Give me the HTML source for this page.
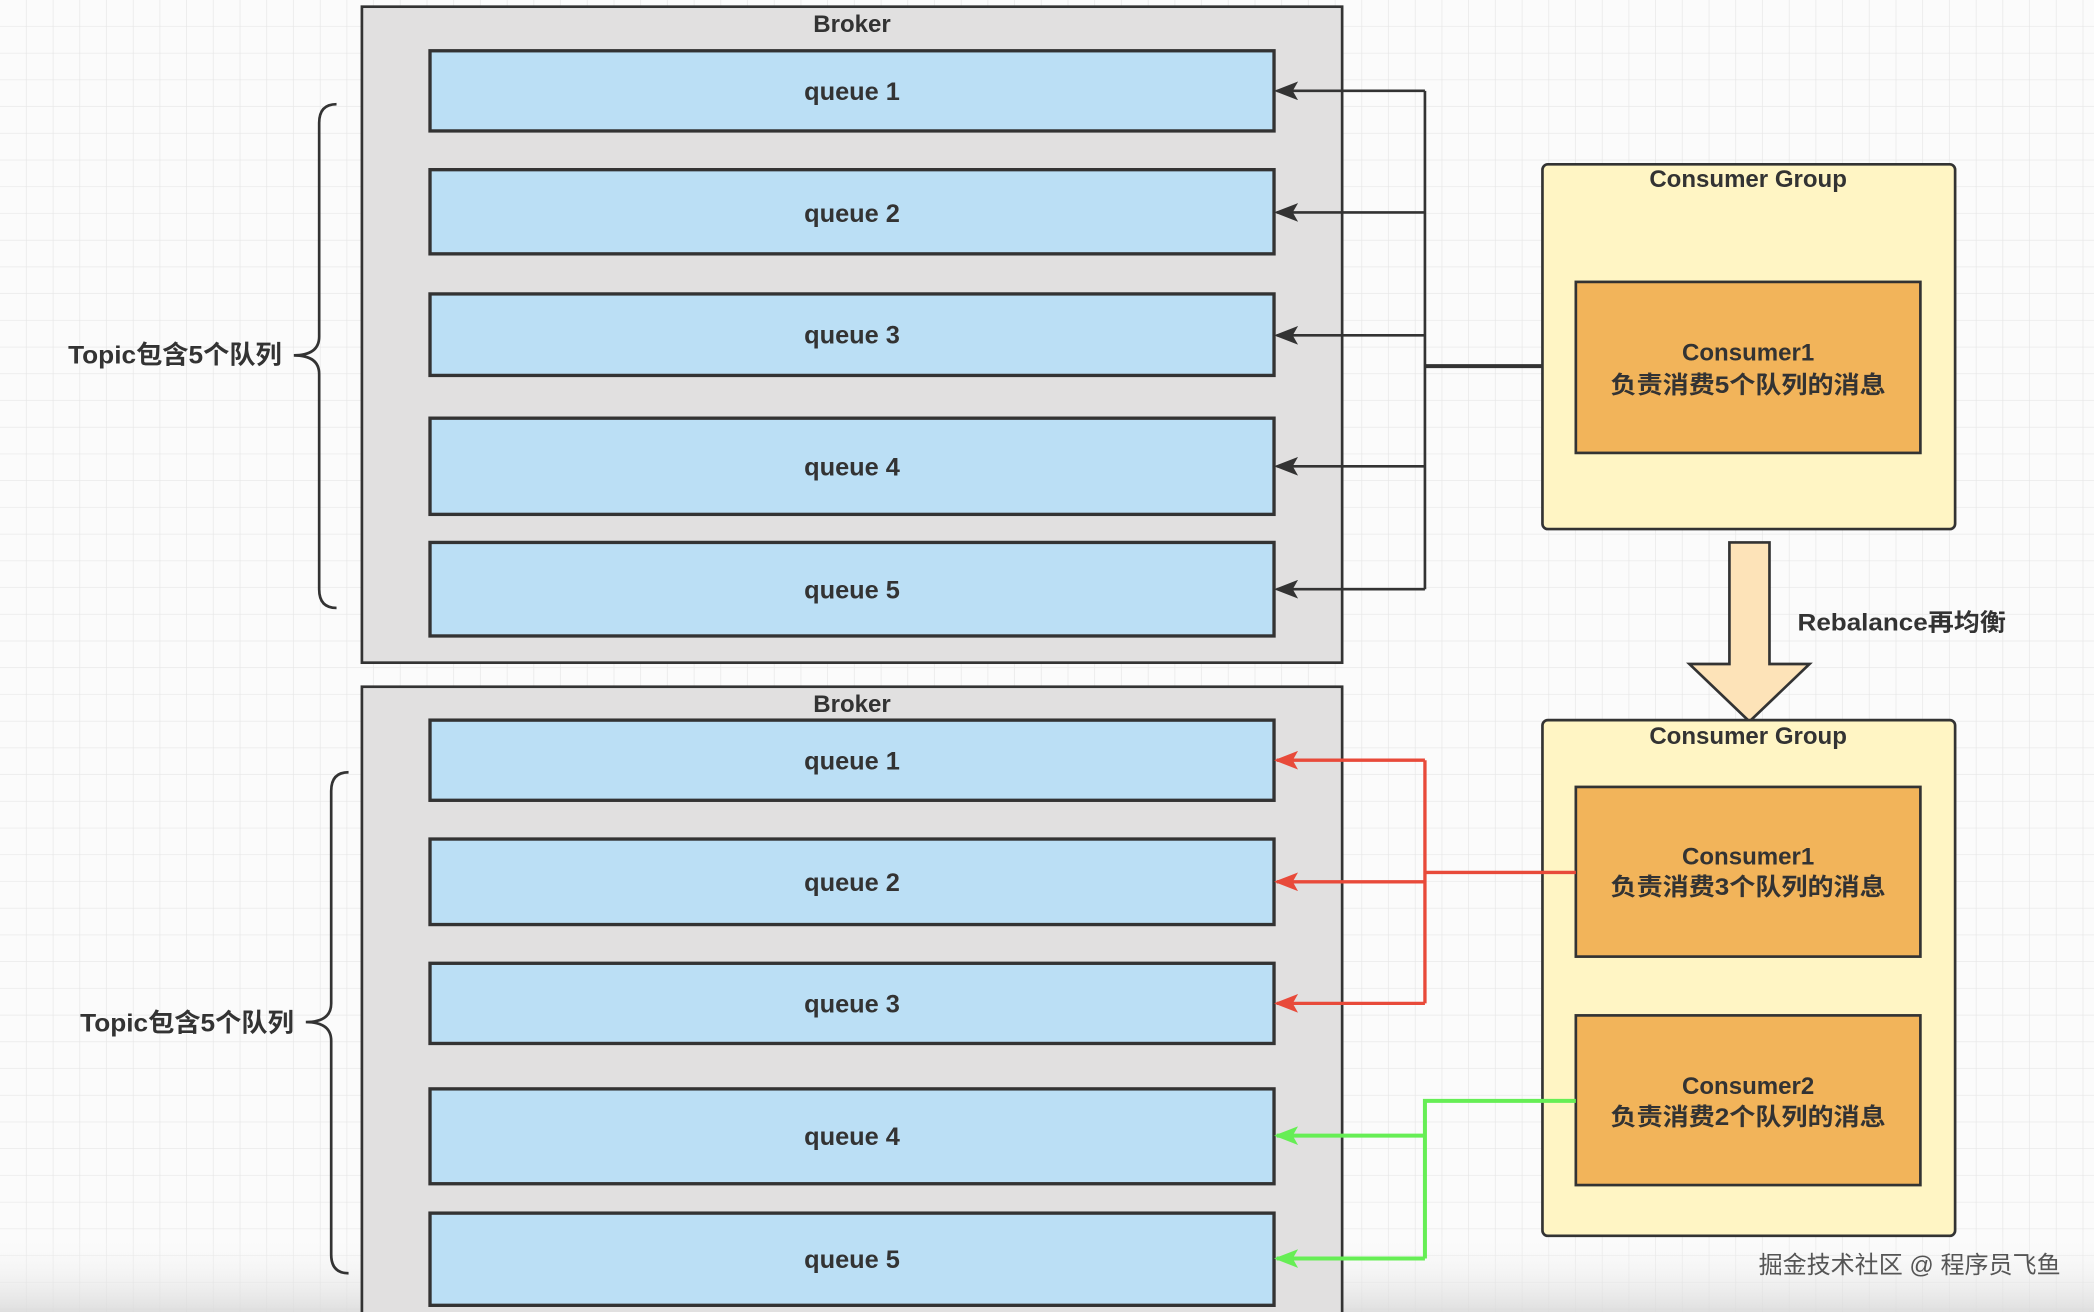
<!DOCTYPE html>
<html><head><meta charset="utf-8"><style>
html,body{margin:0;padding:0;background:#fafafa;}
svg{display:block;}
text{font-family:"Liberation Sans","Noto Sans CJK SC",sans-serif;font-weight:bold;fill:#333;}
</style></head><body>
<svg width="2094" height="1312" viewBox="0 0 1568 982" preserveAspectRatio="none" xmlns="http://www.w3.org/2000/svg">
<defs>
<pattern id="g" width="20" height="20" patternUnits="userSpaceOnUse">
<path d="M20 0V20M0 20H20" stroke="#e6e6e6" stroke-width="1" fill="none"/>
</pattern>
<linearGradient id="bot" x1="0" y1="0" x2="0" y2="1">
<stop offset="0" stop-color="#fff" stop-opacity="0"/><stop offset="1" stop-color="#d8d8d8" stop-opacity="0.8"/>
</linearGradient>
<marker id="ak" markerWidth="18" markerHeight="14" refX="16" refY="7" orient="auto" markerUnits="userSpaceOnUse"><path d="M0,0 L18,7 L0,14 L4,7 Z" fill="#333"/></marker>
<marker id="ar" markerWidth="18" markerHeight="14" refX="16" refY="7" orient="auto" markerUnits="userSpaceOnUse"><path d="M0,0 L18,7 L0,14 L4,7 Z" fill="#e84a3a"/></marker>
<marker id="ag" markerWidth="18" markerHeight="14" refX="16" refY="7" orient="auto" markerUnits="userSpaceOnUse"><path d="M0,0 L18,7 L0,14 L4,7 Z" fill="#66ee55"/></marker>
</defs>
<rect width="1568" height="982" fill="#fbfbfb"/>
<rect width="1568" height="982" fill="url(#g)"/>
<rect y="920" width="1568" height="62" fill="url(#bot)"/>

<rect x="271" y="5" width="734" height="491" fill="#e1e0e0" stroke="#333" stroke-width="2"/>
<text x="638" y="24" text-anchor="middle" font-size="18">Broker</text>
<g fill="#bbdff5" stroke="#333" stroke-width="2.5">
<rect x="322" y="38" width="632" height="60"/>
<rect x="322" y="127" width="632" height="63"/>
<rect x="322" y="220" width="632" height="61"/>
<rect x="322" y="313" width="632" height="72"/>
<rect x="322" y="406" width="632" height="70"/>
</g>
<g font-size="19" text-anchor="middle">
<text x="638" y="75">queue 1</text>
<text x="638" y="166">queue 2</text>
<text x="638" y="257">queue 3</text>
<text x="638" y="356">queue 4</text>
<text x="638" y="448">queue 5</text>
</g>

<rect x="271" y="514" width="734" height="480" fill="#e1e0e0" stroke="#333" stroke-width="2"/>
<text x="638" y="533" text-anchor="middle" font-size="18">Broker</text>
<g fill="#bbdff5" stroke="#333" stroke-width="2.5">
<rect x="322" y="539" width="632" height="60"/>
<rect x="322" y="628" width="632" height="64"/>
<rect x="322" y="721" width="632" height="60"/>
<rect x="322" y="815" width="632" height="71"/>
<rect x="322" y="908" width="632" height="69"/>
</g>
<g font-size="19" text-anchor="middle">
<text x="638" y="576">queue 1</text>
<text x="638" y="667">queue 2</text>
<text x="638" y="758">queue 3</text>
<text x="638" y="857">queue 4</text>
<text x="638" y="949">queue 5</text>
</g>

<path d="M252 78 Q239 78 239 92 V252 Q239 266 220 266 Q239 266 239 280 V441 Q239 455 252 455" fill="none" stroke="#333" stroke-width="2"/>
<text x="211" y="272" text-anchor="end" font-size="19" textLength="160" lengthAdjust="spacingAndGlyphs">Topic包含5个队列</text>
<path d="M261 578 Q248 578 248 592 V751 Q248 765 229 765 Q248 765 248 779 V939 Q248 953 261 953" fill="none" stroke="#333" stroke-width="2"/>
<text x="220" y="772" text-anchor="end" font-size="19" textLength="160" lengthAdjust="spacingAndGlyphs">Topic包含5个队列</text>

<g stroke="#333" stroke-width="2" fill="none">
<path d="M1067 68V441"/>
<path d="M1067 68H956" marker-end="url(#ak)"/>
<path d="M1067 159H956" marker-end="url(#ak)"/>
<path d="M1067 251H956" marker-end="url(#ak)"/>
<path d="M1067 349H956" marker-end="url(#ak)"/>
<path d="M1067 441H956" marker-end="url(#ak)"/>
<path d="M1067 274H1180" stroke-width="3"/>
</g>

<rect x="1155" y="123" width="309" height="273" rx="4" fill="#fff5c4" stroke="#333" stroke-width="2"/>
<text x="1309" y="140" text-anchor="middle" font-size="18">Consumer Group</text>
<rect x="1180" y="211" width="258" height="128" fill="#f2b45a" stroke="#333" stroke-width="2"/>
<text x="1309" y="270" text-anchor="middle" font-size="18">Consumer1</text>
<text x="1309" y="294" text-anchor="middle" font-size="18" textLength="206" lengthAdjust="spacingAndGlyphs">负责消费5个队列的消息</text>

<path d="M1295 406H1325V497H1355L1310 540L1265 497H1295Z" fill="#fde3b8" stroke="#333" stroke-width="2"/>
<text x="1346" y="472" font-size="18" textLength="156" lengthAdjust="spacingAndGlyphs">Rebalance再均衡</text>

<rect x="1155" y="539" width="309" height="386" rx="4" fill="#fff5c4" stroke="#333" stroke-width="2"/>
<text x="1309" y="557" text-anchor="middle" font-size="18">Consumer Group</text>
<rect x="1180" y="589" width="258" height="127" fill="#f2b45a" stroke="#333" stroke-width="2"/>
<text x="1309" y="647" text-anchor="middle" font-size="18">Consumer1</text>
<text x="1309" y="670" text-anchor="middle" font-size="18" textLength="206" lengthAdjust="spacingAndGlyphs">负责消费3个队列的消息</text>
<rect x="1180" y="760" width="258" height="127" fill="#f2b45a" stroke="#333" stroke-width="2"/>
<text x="1309" y="819" text-anchor="middle" font-size="18">Consumer2</text>
<text x="1309" y="842" text-anchor="middle" font-size="18" textLength="206" lengthAdjust="spacingAndGlyphs">负责消费2个队列的消息</text>

<g stroke="#e84a3a" stroke-width="2.5" fill="none">
<path d="M1067 569V751"/>
<path d="M1067 569H956" marker-end="url(#ar)"/>
<path d="M1067 660H956" marker-end="url(#ar)"/>
<path d="M1067 751H956" marker-end="url(#ar)"/>
<path d="M1067 653H1180"/>
</g>
<g stroke="#66ee55" stroke-width="3" fill="none">
<path d="M1180 824H1067V942"/>
<path d="M1067 850H956" marker-end="url(#ag)"/>
<path d="M1067 942H956" marker-end="url(#ag)"/>
</g>

<text x="1543" y="953" text-anchor="end" font-size="18" style="font-weight:normal;fill:#555">掘金技术社区 @ 程序员飞鱼</text>
</svg>
</body></html>
